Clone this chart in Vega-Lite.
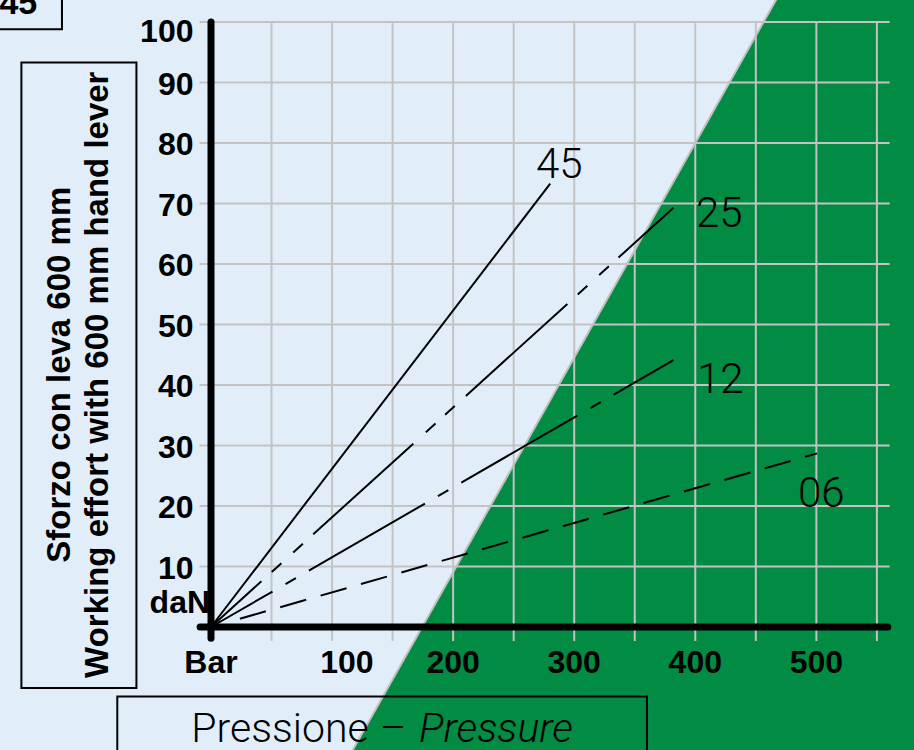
{
  "$schema": "https://vega.github.io/schema/vega-lite/v6.json",
  "width": 678,
  "height": 605,
  "autosize": {"type": "none"},
  "padding": {"left": 211, "top": 22, "right": 25, "bottom": 123},
  "background": "#e1eefa",
  "config": {"view": {"stroke": null}, "axis": {"disable": true}},
  "layer": [
    {
      "data": {"values": [
        {"gx": 115.2, "gy": -21, "gb": -21},
        {"gx": 467.7, "gy": 104, "gb": -21},
        {"gx": 600, "gy": 104, "gb": -21}
      ]},
      "mark": {"type": "area", "color": "#018b43", "orient": "vertical", "clip": false},
      "encoding": {
        "x": {"field": "gx", "type": "quantitative", "scale": {"domain": [0, 560], "nice": false, "zero": false}},
        "y": {"field": "gy", "type": "quantitative", "scale": {"domain": [0, 100], "nice": false, "zero": false}},
        "y2": {"field": "gb"}
      }
    },
    {
      "data": {"values": [
        {"bx": 115.2, "by": -21},
        {"bx": 467.7, "by": 104}
      ]},
      "mark": {"type": "line", "color": "#c0c0c0", "strokeWidth": 2, "clip": false},
      "encoding": {
        "x": {"field": "bx", "type": "quantitative"},
        "y": {"field": "by", "type": "quantitative"}
      }
    },
    {
      "data": {"values": [
        {"gv": 50, "v0": -2.3, "v1": 100}, {"gv": 100, "v0": -2.3, "v1": 100},
        {"gv": 150, "v0": -2.3, "v1": 100}, {"gv": 200, "v0": -2.3, "v1": 100},
        {"gv": 250, "v0": -2.3, "v1": 100}, {"gv": 300, "v0": -2.3, "v1": 100},
        {"gv": 350, "v0": -2.3, "v1": 100}, {"gv": 400, "v0": -2.3, "v1": 100},
        {"gv": 450, "v0": -2.3, "v1": 100}, {"gv": 500, "v0": -2.3, "v1": 100},
        {"gv": 550, "v0": -2.3, "v1": 100}
      ]},
      "mark": {"type": "rule", "color": "#c3c3c3", "strokeWidth": 2, "clip": false},
      "encoding": {
        "x": {"field": "gv", "type": "quantitative"},
        "y": {"field": "v0", "type": "quantitative"},
        "y2": {"field": "v1"}
      }
    },
    {
      "data": {"values": [
        {"gh": 10, "h0": -9.5, "h1": 560.5}, {"gh": 20, "h0": -9.5, "h1": 560.5},
        {"gh": 30, "h0": -9.5, "h1": 560.5}, {"gh": 40, "h0": -9.5, "h1": 560.5},
        {"gh": 50, "h0": -9.5, "h1": 560.5}, {"gh": 60, "h0": -9.5, "h1": 560.5},
        {"gh": 70, "h0": -9.5, "h1": 560.5}, {"gh": 80, "h0": -9.5, "h1": 560.5},
        {"gh": 90, "h0": -9.5, "h1": 560.5}, {"gh": 100, "h0": -9.5, "h1": 560.5}
      ]},
      "mark": {"type": "rule", "color": "#c3c3c3", "strokeWidth": 2, "clip": false},
      "encoding": {
        "y": {"field": "gh", "type": "quantitative"},
        "x": {"field": "h0", "type": "quantitative"},
        "x2": {"field": "h1"}
      }
    },
    {
      "data": {"values": [
        {"bx1": -156.6, "bx2": -61.6, "by1": -10.1, "by2": 93.3},
        {"bx1": -77.4, "bx2": 360.1, "by1": -24, "by2": -11.5},
        {"bx1": -185, "bx2": -123.1, "by1": 98.8, "by2": 106}
      ]},
      "mark": {"type": "rect", "fill": "transparent", "stroke": "black", "strokeWidth": 2, "clip": false},
      "encoding": {
        "x": {"field": "bx1", "type": "quantitative"},
        "x2": {"field": "bx2"},
        "y": {"field": "by1", "type": "quantitative"},
        "y2": {"field": "by2"}
      }
    },
    {
      "data": {"values": [
        {"ax1": -9, "ax2": 559, "ay1": 0, "ay2": 0},
        {"ax1": 0, "ax2": 0, "ay1": -1.85, "ay2": 100}
      ]},
      "mark": {"type": "rule", "color": "black", "strokeWidth": 7, "strokeCap": "round", "clip": false},
      "encoding": {
        "x": {"field": "ax1", "type": "quantitative"},
        "x2": {"field": "ax2"},
        "y": {"field": "ay1", "type": "quantitative"},
        "y2": {"field": "ay2"}
      }
    },
    {
      "data": {"values": [
        {"p": 0, "f": 0}, {"p": 280.2, "f": 73.3}
      ]},
      "mark": {"type": "line", "color": "black", "strokeWidth": 2, "clip": false},
      "encoding": {
        "x": {"field": "p", "type": "quantitative"},
        "y": {"field": "f", "type": "quantitative"}
      }
    },
    {
      "data": {"values": [
        {"p": 0, "f": 0}, {"p": 382, "f": 69.3}
      ]},
      "mark": {"type": "line", "color": "black", "strokeWidth": 2, "clip": false,
               "strokeDash": [68, 14, 13, 16, 13, 14, 135, 17, 13, 13, 13, 15, 137, 14, 13, 16, 13, 13, 80, 10]},
      "encoding": {
        "x": {"field": "p", "type": "quantitative"},
        "y": {"field": "f", "type": "quantitative"}
      }
    },
    {
      "data": {"values": [
        {"p": 0, "f": 0}, {"p": 382, "f": 44.1}
      ]},
      "mark": {"type": "line", "color": "black", "strokeWidth": 2, "clip": false,
               "strokeDash": [71, 15, 12, 15, 134, 15, 12, 15, 134, 15, 12, 15, 134, 10]},
      "encoding": {
        "x": {"field": "p", "type": "quantitative"},
        "y": {"field": "f", "type": "quantitative"}
      }
    },
    {
      "data": {"values": [
        {"p": 0, "f": 0}, {"p": 500.6, "f": 28.7}
      ]},
      "mark": {"type": "line", "color": "black", "strokeWidth": 2, "clip": false,
               "strokeDash": [0, 30, 27, 15, 27, 15, 27, 15, 27, 15, 27, 15, 27, 15, 27, 15, 27, 15, 27, 15, 27, 15, 27, 15, 27, 15, 27, 15, 27, 15, 27, 15]},
      "encoding": {
        "x": {"field": "p", "type": "quantitative"},
        "y": {"field": "f", "type": "quantitative"}
      }
    },
    {
      "data": {"values": [
        {"lbl": "10", "v": 10}, {"lbl": "20", "v": 20}, {"lbl": "30", "v": 30},
        {"lbl": "40", "v": 40}, {"lbl": "50", "v": 50}, {"lbl": "60", "v": 60},
        {"lbl": "70", "v": 70}, {"lbl": "80", "v": 80}, {"lbl": "90", "v": 90},
        {"lbl": "100", "v": 98.7}
      ]},
      "mark": {"type": "text", "font": "Liberation Sans", "fontWeight": "bold", "fontSize": 32, "align": "right", "baseline": "middle", "dx": -17.5, "dy": 2, "color": "black", "clip": false},
      "encoding": {
        "x": {"datum": 0},
        "y": {"field": "v", "type": "quantitative"},
        "text": {"field": "lbl"}
      }
    },
    {
      "data": {"values": [
        {"lbl": "Bar", "v": 0}, {"lbl": "100", "v": 112.2}, {"lbl": "200", "v": 200},
        {"lbl": "300", "v": 300}, {"lbl": "400", "v": 400}, {"lbl": "500", "v": 500}
      ]},
      "mark": {"type": "text", "font": "Liberation Sans", "fontWeight": "bold", "fontSize": 32, "align": "center", "baseline": "alphabetic", "dy": 46, "color": "black", "clip": false},
      "encoding": {
        "x": {"field": "v", "type": "quantitative"},
        "y": {"datum": 0},
        "text": {"field": "lbl"}
      }
    },
    {
      "data": {"values": [
        {"name": "45", "lx": 287.6, "ly": 76.8},
        {"name": "25", "lx": 419.8, "ly": 68.8},
        {"name": "12", "lx": 420.7, "ly": 41.3},
        {"name": "06", "lx": 504.1, "ly": 22.5}
      ]},
      "mark": {"type": "text", "font": "Roboto", "fontWeight": 300, "fontSize": 42, "align": "center", "baseline": "middle", "dy": 3, "color": "black", "clip": false},
      "encoding": {
        "x": {"field": "lx", "type": "quantitative"},
        "y": {"field": "ly", "type": "quantitative"},
        "text": {"field": "name"}
      }
    },
    {
      "data": {"values": [
        {"t": "Pressione", "tx": 57, "ty": -18.96},
        {"t": "–", "tx": 150.4, "ty": -18.96}
      ]},
      "mark": {"type": "text", "font": "Roboto", "fontWeight": 300, "fontSize": 41, "align": "center", "baseline": "alphabetic", "color": "black", "clip": false},
      "encoding": {
        "x": {"field": "tx", "type": "quantitative"},
        "y": {"field": "ty", "type": "quantitative"},
        "text": {"field": "t"}
      }
    },
    {
      "data": {"values": [
        {"t": "Pressure", "tx": 235.4, "ty": -18.96}
      ]},
      "mark": {"type": "text", "font": "Roboto", "fontWeight": 300, "fontStyle": "italic", "fontSize": 41, "align": "center", "baseline": "alphabetic", "color": "black", "clip": false},
      "encoding": {
        "x": {"field": "tx", "type": "quantitative"},
        "y": {"field": "ty", "type": "quantitative"},
        "text": {"field": "t"}
      }
    },
    {
      "data": {"values": [
        {"t": "Sforzo con leva 600 mm", "tx": -116.5, "ty": 41.7},
        {"t": "Working effort with 600 mm hand lever", "tx": -85.1, "ty": 41.7}
      ]},
      "mark": {"type": "text", "font": "Liberation Sans", "fontWeight": "bold", "fontSize": 33, "angle": 270, "align": "center", "baseline": "alphabetic", "color": "black", "clip": false},
      "encoding": {
        "x": {"field": "tx", "type": "quantitative"},
        "y": {"field": "ty", "type": "quantitative"},
        "text": {"field": "t"}
      }
    },
    {
      "data": {"values": [
        {"t": "daN", "tx": -0.8, "ty": 2.3}
      ]},
      "mark": {"type": "text", "font": "Liberation Sans", "fontWeight": "bold", "fontSize": 32, "align": "right", "baseline": "alphabetic", "color": "black", "clip": false},
      "encoding": {
        "x": {"field": "tx", "type": "quantitative"},
        "y": {"field": "ty", "type": "quantitative"},
        "text": {"field": "t"}
      }
    },
    {
      "data": {"values": [
        {"t": "45", "tx": -143.5, "ty": 101.4}
      ]},
      "mark": {"type": "text", "font": "Liberation Sans", "fontWeight": "bold", "fontSize": 34, "align": "right", "baseline": "alphabetic", "color": "black", "clip": false},
      "encoding": {
        "x": {"field": "tx", "type": "quantitative"},
        "y": {"field": "ty", "type": "quantitative"},
        "text": {"field": "t"}
      }
    }
  ]
}
